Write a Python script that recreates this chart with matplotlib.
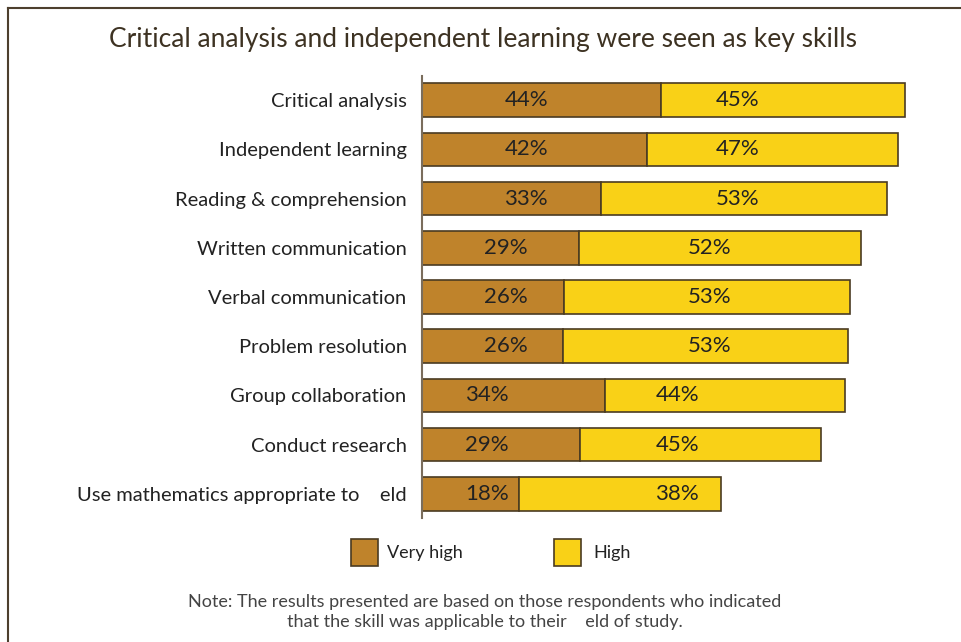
import matplotlib.pyplot as plt
from matplotlib.lines import Line2D
from matplotlib.patches import Rectangle

# skills, top to bottom
skills = [
    "Critical analysis",
    "Independent learning",
    "Reading & comprehension",
    "Written communication",
    "Verbal communication",
    "Problem resolution",
    "Group collaboration",
    "Conduct research",
    "Use mathematics appropriate to    eld",
]
# bar lengths (percent)
very_high = [44.0, 41.4, 33.0, 28.9, 26.2, 26.0, 33.7, 29.1, 17.9]
high = [44.9, 46.3, 52.6, 51.9, 52.6, 52.5, 44.2, 44.4, 37.2]
# printed labels
very_high_labels = ["44%", "42%", "33%", "29%", "26%", "26%", "34%", "29%", "18%"]
high_labels = ["45%", "47%", "53%", "52%", "53%", "53%", "44%", "45%", "38%"]

BROWN = "#bf832b"
YELLOW = "#f9d117"
EDGE = "#4a3b22"
TEXT = "#222222"

# the original places the value labels at a fixed x for each block of three rows
label_x_vh = [19.2] * 3 + [15.5] * 3 + [12.0] * 3
label_x_hi = [58.1] * 3 + [52.9] * 3 + [47.0] * 3

plt.rcParams["font.family"] = ["Lato", "DejaVu Sans"]

fig = plt.figure(figsize=(9.61, 6.42), dpi=100)
W, H = 961, 642

# frame around the figure (only top and left visible)
fig.add_artist(Line2D([8 / W, 8 / W], [0, 1 - 8 / H], color="#4d3f2e", lw=1.5))
fig.add_artist(Line2D([8 / W, 1], [1 - 8 / H, 1 - 8 / H], color="#4d3f2e", lw=1.5))

ax = fig.add_axes([422 / W, 1 - 518 / H, 516 / W, 442 / H])
ax.set_xlim(0, 95)
ax.set_ylim(8.49, -0.49)

y = list(range(len(skills)))
ax.barh(y, very_high, height=0.68, color=BROWN, edgecolor=EDGE, linewidth=1.2)
ax.barh(y, high, left=very_high, height=0.68, color=YELLOW, edgecolor=EDGE, linewidth=1.2)

for i in y:
    ax.text(label_x_vh[i], i, very_high_labels[i], ha="center", va="center",
            fontsize=16, color=TEXT)
    ax.text(label_x_hi[i], i, high_labels[i], ha="center", va="center",
            fontsize=16, color=TEXT)

ax.set_yticks(y)
ax.set_yticklabels(skills, fontsize=14.5, color=TEXT)
ax.tick_params(axis="y", length=0, pad=11)
ax.set_xticks([])
for side in ["top", "right", "bottom"]:
    ax.spines[side].set_visible(False)
ax.spines["left"].set_color("#7a6d5c")
ax.spines["left"].set_linewidth(1.5)

fig.text(483 / W, 1 - 40 / H, "Critical analysis and independent learning were seen as key skills",
         ha="center", va="center", fontsize=19, color="#3d3222")

# legend
fig.add_artist(Rectangle((351 / W, 1 - 566 / H), 27 / W, 27 / H, facecolor=BROWN,
                         edgecolor=EDGE, lw=1.2, transform=fig.transFigure))
fig.text(387 / W, 1 - 553 / H, "Very high", ha="left", va="center", fontsize=13, color=TEXT)
fig.add_artist(Rectangle((554 / W, 1 - 566 / H), 27 / W, 27 / H, facecolor=YELLOW,
                         edgecolor=EDGE, lw=1.2, transform=fig.transFigure))
fig.text(593 / W, 1 - 553 / H, "High", ha="left", va="center", fontsize=13, color=TEXT)

fig.text(485 / W, 1 - 612 / H,
         "Note: The results presented are based on those respondents who indicated\n"
         "that the skill was applicable to their    eld of study.",
         ha="center", va="center", fontsize=13, color="#444444", linespacing=1.3)

fig.savefig("out.png", dpi=100)
